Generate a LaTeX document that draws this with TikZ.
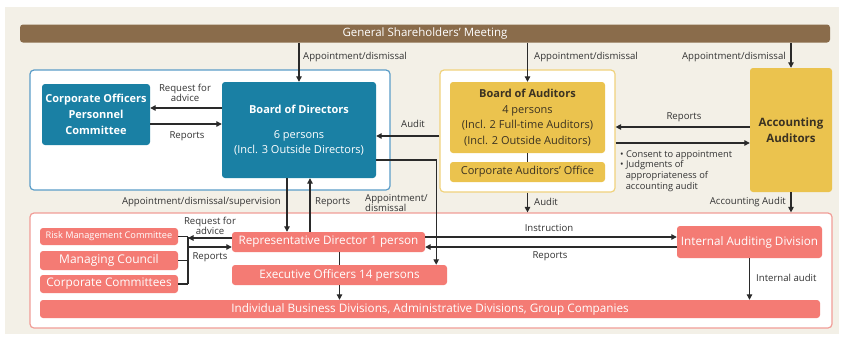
\documentclass[tikz,border=0pt]{standalone}
\usepackage{fontspec}
\setmainfont{Open Sans}
\usepackage{tikz}
\usetikzlibrary{arrows.meta,positioning}
\definecolor{gvCream}{HTML}{F3F0E7}
\definecolor{gvBrown}{HTML}{8A6C4B}
\definecolor{gvBlue}{HTML}{1A80A4}
\definecolor{gvBlueLine}{HTML}{5B9DC8}
\definecolor{gvGold}{HTML}{EBC34E}
\definecolor{gvGoldLine}{HTML}{F0D27C}
\definecolor{gvGoldInk}{HTML}{3B3222}
\definecolor{gvRed}{HTML}{F47B74}
\definecolor{gvRedLine}{HTML}{F19D97}
\definecolor{gvInk}{HTML}{333333}
\definecolor{gvArrow}{HTML}{2A2A2A}
\tikzset{
  gv diagram/.style={font=\fontsize{11}{13}\selectfont, text=gvInk},
  gv box/.style={rounded corners=3pt, align=center, inner sep=0pt, text=white},
  gv brown box/.style={gv box, fill=gvBrown, font=\fontsize{11.5}{13}\selectfont},
  gv blue box/.style={gv box, fill=gvBlue, font=\bfseries\fontsize{11}{16}\selectfont},
  gv gold box/.style={gv box, fill=gvGold, text=gvGoldInk, font=\fontsize{11}{15.5}\selectfont},
  gv red box/.style={gv box, fill=gvRed, font=\fontsize{11.7}{13}\selectfont},
  gv frame/.style={rounded corners=4pt, fill=white, line width=1.2pt, inner sep=0pt},
  gv arrow/.style={-{Triangle[length=5.5pt,width=5.5pt]}, draw=gvArrow, line width=1.1pt},
  gv line/.style={draw=gvArrow, line width=1.1pt},
  gv label/.style={font=\fontsize{9.6}{10.5}\selectfont, text=gvInk, inner sep=1pt}
}
\begin{document}
\begin{tikzpicture}[gv diagram,x=1pt,y=-1pt]
\useasboundingbox (0,0) rectangle (845,338);
\fill[gvCream] (5,7) rectangle (839,334);
\node[gv brown box, minimum width=810pt, minimum height=18pt] (gsm) at (425,33.5) {General Shareholders' Meeting};
% directors
\node[gv frame, draw=gvBlueLine, minimum width=360pt, minimum height=120pt] (dirgrp) at (210,130) {};
\node[gv blue box, minimum width=108pt, minimum height=61pt] (copc) at (96,114.5) {Corporate Officers\\Personnel\\Committee};
\node[gv blue box, font=\bfseries\fontsize{11}{15}\selectfont, minimum width=154pt, minimum height=96pt] (bod) at (299,130)
  {Board of Directors\\[10pt]{\mdseries 6 persons}\\{\mdseries (Incl. 3 Outside Directors)}};
% auditors
\node[gv frame, draw=gvGoldLine, minimum width=175pt, minimum height=122pt] (audgrp) at (527.5,131) {};
\node[gv gold box, minimum width=155pt, minimum height=71pt] (boa) at (527.5,117.5)
  {{\bfseries Board of Auditors}\\4 persons\\(Incl. 2 Full-time Auditors)\\(Incl. 2 Outside Auditors)};
\node[gv gold box, minimum width=155pt, minimum height=20pt] (cao) at (527.5,172) {Corporate Auditors' Office};
\node[gv gold box, font=\bfseries\fontsize{11.5}{16}\selectfont, minimum width=82pt, minimum height=124pt] (aa) at (791,130) {Accounting\\Auditors};
% execution
\node[gv frame, draw=gvRedLine, minimum width=802pt, minimum height=115pt] (opgrp) at (431,270.5) {};
\node[gv red box, font=\fontsize{9.2}{11}\selectfont, minimum width=138pt, minimum height=17pt] (rmc) at (109,236.5) {Risk Management Committee};
\node[gv red box, font=\fontsize{12}{13}\selectfont, minimum width=138pt, minimum height=19pt] (mc) at (109,260.5) {Managing Council};
\node[gv red box, font=\fontsize{11.8}{13}\selectfont, minimum width=138pt, minimum height=18pt] (cc) at (109,284) {Corporate Committees};
\node[gv red box, minimum width=780pt, minimum height=18pt] (ibd) at (430,309) {Individual Business Divisions, Administrative Divisions, Group Companies};
\node[gv red box, minimum width=193pt, minimum height=20pt] (rd) at (328.5,242) {Representative Director 1 person};
\node[gv red box, minimum width=215pt, minimum height=20pt] (eo) at (339.5,275) {Executive Officers 14 persons};
\node[gv red box, minimum width=145pt, minimum height=32pt] (iad) at (749.5,242) {Internal Auditing Division};
\coordinate (cmtbar) at (188,260);
% connectors
\draw[gv arrow] (bod.north |- gsm.south) -- (bod.north);
\draw[gv arrow] (boa.north |- gsm.south) -- (boa.north);
\draw[gv arrow] (aa.north |- gsm.south) -- (aa.north);
\draw[gv arrow] ([yshift=22pt]bod.west) -- ([yshift=22pt]bod.west -| copc.east);
\draw[gv arrow] ([yshift=-9.5pt]copc.east) -- ([yshift=-9.5pt]copc.east -| bod.west);
\draw[gv arrow] ([yshift=-5pt]audgrp.west) -- ([yshift=-5pt]audgrp.west -| bod.east);
\draw[gv line] (boa.south) -- (cao.north);
\draw[gv arrow] ([yshift=3pt]aa.west) -- ([yshift=3pt]aa.west -| audgrp.east);
\draw[gv arrow] ([yshift=-12pt]audgrp.east) -- ([yshift=-12pt]audgrp.east -| aa.west);
\draw[gv arrow] ([xshift=-12pt]bod.south) -- ([xshift=-12pt]bod.south |- rd.north);
\draw[gv arrow] ([xshift=11pt]bod.south |- rd.north) -- ([xshift=11pt]bod.south);
\draw[gv arrow] ([yshift=-30pt]bod.east) -| ([xshift=-11pt]eo.north east);
\draw[gv arrow] (audgrp.south) -- (audgrp.south |- opgrp.north);
\draw[gv arrow] (aa.south) -- (aa.south |- opgrp.north);
\draw[gv arrow] ([yshift=5pt]rd.east) -- ([yshift=5pt]rd.east -| iad.west);
\draw[gv arrow] ([yshift=-5pt]iad.west) -- ([yshift=-5pt]iad.west -| rd.east);
\draw[gv line] (rmc.east) -- (rmc.east -| cmtbar);
\draw[gv line] (mc.east) -- (mc.east -| cmtbar);
\draw[gv line] (cc.east) -- (cc.east -| cmtbar);
\draw[gv line] (rmc.east -| cmtbar) -- (cc.east -| cmtbar);
\draw[gv arrow] ([yshift=4pt]rd.west) -- ([yshift=4pt]rd.west -| cmtbar);
\draw[gv arrow] ([yshift=-5pt]rd.west -| cmtbar) -- ([yshift=-5pt]rd.west);
\draw[gv line] (eo.north |- rd.south) -- (eo.north);
\draw[gv arrow] (eo.south) -- (eo.south |- ibd.north);
\draw[gv arrow] (iad.south) -- (iad.south |- ibd.north);
% labels
\node[gv label,anchor=west] (lgsmA) at (302,57) {Appointment/dismissal};
\node[gv label,anchor=west] (lgsmB) at (533,57) {Appointment/dismissal};
\node[gv label,anchor=east] (lgsmC) at (787,57) {Appointment/dismissal};
\node[gv label,align=center] (lreq) at (185,93) {Request for\\advice};
\node[gv label] (lrep) at (187,136) {Reports};
\node[gv label] (laud) at (413,124) {Audit};
\node[gv label] (laarep) at (684,117) {Reports};
\node[gv label,anchor=north west,align=left,font=\fontsize{9.3}{10.8}\selectfont] (lconsent) at (619,149)
  {\textbullet\ Consent to appointment\\\textbullet\ Judgments of\\\hspace*{0.6em}appropriateness of\\\hspace*{0.6em}accounting audit};
\node[gv label,anchor=east] (lsup) at (282,202) {Appointment/dismissal/supervision};
\node[gv label,anchor=west] (lrdrep) at (314,202) {Reports};
\node[gv label,anchor=west,align=left] (leo) at (364,203) {Appointment/\\dismissal};
\node[gv label,anchor=west] (laud2) at (533,202) {Audit};
\node[gv label,anchor=east] (lacc) at (787,202) {Accounting Audit};
\node[gv label,align=center] (lcreq) at (210,226) {Request for\\advice};
\node[gv label] (lcrep) at (210,257) {Reports};
\node[gv label] (linst) at (549,228) {Instruction};
\node[gv label] (lirep) at (550,256) {Reports};
\node[gv label,anchor=west] (lint) at (755,278) {Internal audit};
\end{tikzpicture}
\end{document}
